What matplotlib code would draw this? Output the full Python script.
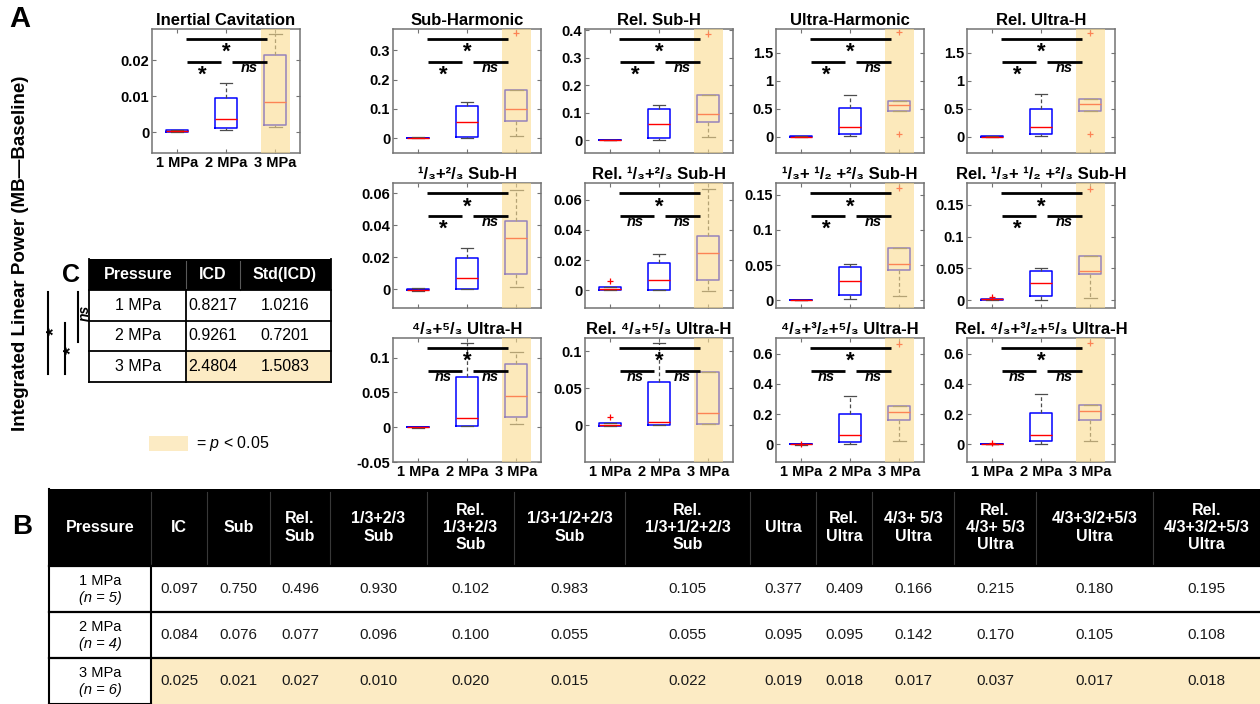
import numpy as np
import matplotlib
matplotlib.use("Agg")
import matplotlib.pyplot as plt
import matplotlib.transforms as mtransforms
from matplotlib.patches import Rectangle
from matplotlib.ticker import FuncFormatter

plt.rcParams['font.family'] = ['Liberation Sans', 'DejaVu Sans']
plt.rcParams['mathtext.fontset'] = 'custom'
plt.rcParams['mathtext.it'] = 'Liberation Sans:italic'
plt.rcParams['mathtext.rm'] = 'Liberation Sans'

W, H = 1260, 704
pressures = ['1 MPa', '2 MPa', '3 MPa']

# ---- five-number summaries (whislo, q1, median, q3, whishi) per pressure, plus outliers ----
inertial_cav = [(0.0, 0.0001, 0.0002, 0.0005, 0.0007),
                (0.0006, 0.0011, 0.0036, 0.0095, 0.0136),
                (0.0014, 0.0019, 0.0083, 0.0214, 0.0272)]
inertial_cav_out = [[], [], []]

sub_h = [(0.0, 0.0005, 0.001, 0.0015, 0.002),
         (0.0, 0.0034, 0.054, 0.111, 0.124),
         (0.008, 0.060, 0.099, 0.163, 0.163)]
sub_h_out = [[], [], [0.359]]

rel_sub_h = [(0.0, 0.0005, 0.001, 0.0015, 0.002),
             (0.0, 0.008, 0.057, 0.114, 0.126),
             (0.011, 0.067, 0.096, 0.163, 0.163)]
rel_sub_h_out = [[], [], [0.386]]

ultra_h = [(0.0, 0.002, 0.004, 0.006, 0.008),
           (0.007, 0.054, 0.18, 0.506, 0.75),
           (0.46, 0.46, 0.57, 0.64, 0.64)]
ultra_h_out = [[], [], [1.87, 0.05]]

rel_ultra_h = [(0.0, 0.002, 0.004, 0.006, 0.008),
               (0.007, 0.048, 0.17, 0.50, 0.76),
               (0.45, 0.45, 0.59, 0.68, 0.68)]
rel_ultra_h_out = [[], [], [1.85, 0.048]]

third_sub = [(-0.0012, -0.0008, -0.0003, 0.0002, 0.0004),
             (0.0, 0.0002, 0.0069, 0.0193, 0.0255),
             (0.0011, 0.0094, 0.0323, 0.0428, 0.0624)]
third_sub_out = [[], [], []]

rel_third_sub = [(0.0, 0.0, 0.0005, 0.0022, 0.0022),
                 (0.0, 0.0, 0.0067, 0.0182, 0.0238),
                 (-0.0005, 0.0069, 0.0249, 0.036, 0.0673)]
rel_third_sub_out = [[0.0062], [], []]

third_half_sub = [(0.0, 0.0002, 0.0004, 0.0006, 0.0008),
                  (0.0014, 0.007, 0.0276, 0.047, 0.051),
                  (0.0057, 0.043, 0.052, 0.075, 0.075)]
third_half_sub_out = [[], [], [0.159]]

rel_third_half_sub = [(0.0005, 0.001, 0.0015, 0.002, 0.002),
                      (0.001, 0.0068, 0.0273, 0.0457, 0.051),
                      (0.0036, 0.042, 0.0457, 0.070, 0.070)]
rel_third_half_sub_out = [[0.005], [], [0.175]]

ultra_45 = [(-0.0005, -0.0003, 0.0, 0.0003, 0.0005),
            (0.0019, 0.0019, 0.0129, 0.0713, 0.1207),
            (0.0052, 0.0144, 0.0454, 0.0905, 0.1086)]
ultra_45_out = [[], [], []]

rel_ultra_45 = [(-0.001, -0.001, 0.0, 0.0035, 0.0035),
                (0.0, 0.0, 0.0045, 0.059, 0.1113),
                (0.0014, 0.0014, 0.0168, 0.0718, 0.0718)]
rel_ultra_45_out = [[0.0115], [], []]

ultra_435 = [(-0.002, -0.001, 0.0, 0.001, 0.002),
             (0.0, 0.015, 0.064, 0.203, 0.318),
             (0.02, 0.159, 0.214, 0.256, 0.256)]
ultra_435_out = [[0.002], [], [0.667]]

rel_ultra_435 = [(0.0, 0.001, 0.002, 0.003, 0.004),
                 (0.005, 0.022, 0.064, 0.207, 0.331),
                 (0.02, 0.159, 0.223, 0.258, 0.258)]
rel_ultra_435_out = [[0.009], [], [0.669]]

# significance labels: (1 vs 3 MPa, 1 vs 2 MPa, 2 vs 3 MPa)
sig_main = ('*', '*', 'ns')
sig_mixed = ('*', 'ns', 'ns')

# ---- Table C ----
c_pressure = ['1 MPa', '2 MPa', '3 MPa']
c_icd = ['0.8217', '0.9261', '2.4804']
c_std = ['1.0216', '0.7201', '1.5083']

# ---- Table B ----
b_headers = ['Pressure', 'IC', 'Sub', 'Rel.\nSub', '1/3+2/3\nSub', 'Rel.\n1/3+2/3\nSub',
             '1/3+1/2+2/3\nSub', 'Rel.\n1/3+1/2+2/3\nSub', 'Ultra', 'Rel.\nUltra',
             '4/3+ 5/3\nUltra', 'Rel.\n4/3+ 5/3\nUltra', '4/3+3/2+5/3\nUltra',
             'Rel.\n4/3+3/2+5/3\nUltra']
b_n = [5, 4, 6]
b_1mpa = ['0.097', '0.750', '0.496', '0.930', '0.102', '0.983', '0.105',
          '0.377', '0.409', '0.166', '0.215', '0.180', '0.195']
b_2mpa = ['0.084', '0.076', '0.077', '0.096', '0.100', '0.055', '0.055',
          '0.095', '0.095', '0.142', '0.170', '0.105', '0.108']
b_3mpa = ['0.025', '0.021', '0.027', '0.010', '0.020', '0.015', '0.022',
          '0.019', '0.018', '0.017', '0.037', '0.017', '0.018']

SHADE = (0.98, 0.86, 0.56)
TABLE_YEL = '#FCEBC4'

fig = plt.figure(figsize=(W / 100, H / 100), dpi=100)

# overlay in pixel coordinates for tables and labels
ov = fig.add_axes([0, 0, 1, 1])
ov.set_xlim(0, W)
ov.set_ylim(H, 0)
ov.axis('off')


def px_box(l, t, r, b):
    return [l / W, 1 - b / H, (r - l) / W, (b - t) / H]


def draw_panel(box, title, stats, outs, sig, ylim, yticks, xlabels):
    ax = fig.add_axes(px_box(*box))
    bstats = []
    for (lo, q1, med, q3, hi), fl in zip(stats, outs):
        bstats.append(dict(whislo=lo, q1=q1, med=med, q3=q3, whishi=hi,
                           fliers=np.array(fl, dtype=float)))
    ax.bxp(bstats, positions=[1, 2, 3], widths=0.45, capwidths=0.25,
           boxprops=dict(color='blue', lw=1.1),
           medianprops=dict(color='red', lw=1.0),
           whiskerprops=dict(color='0.3', lw=0.9, linestyle=(0, (3, 2))),
           capprops=dict(color='0.3', lw=0.9),
           flierprops=dict(marker='+', markeredgecolor='red', markersize=5,
                           markeredgewidth=0.9, linestyle='none'),
           manage_ticks=False, zorder=2)
    ax.axvspan(2.7, 3.3, color=SHADE, alpha=0.6, lw=0, zorder=3)
    ax.set_xlim(0.5, 3.5)
    ax.set_ylim(*ylim)
    ax.set_yticks(yticks)
    ax.yaxis.set_major_formatter(FuncFormatter(lambda v, p: ('%g' % round(v, 4))))
    ax.set_xticks([1, 2, 3])
    if xlabels:
        ax.set_xticklabels(pressures)
    else:
        ax.set_xticklabels([])
    ax.tick_params(direction='in', top=True, right=True, length=3, width=0.8,
                   color='0.45', labelsize=10.5, pad=2)
    ax.tick_params(axis='x', labelsize=10.5, pad=2)
    for lab in ax.get_xticklabels() + ax.get_yticklabels():
        lab.set_fontweight('bold')
    for sp in ax.spines.values():
        sp.set_color('0.45')
        sp.set_linewidth(1.1)
    ax.set_title(title, fontsize=12, fontweight='bold', pad=3)

    tr = mtransforms.blended_transform_factory(ax.transData, ax.transAxes)
    y_long, y_short = 0.92, 0.737
    for xs, y in [((1.18, 2.84), y_long), ((1.2, 1.9), y_short), ((2.13, 2.84), y_short)]:
        ax.plot(xs, [y, y], color='k', lw=2, transform=tr, clip_on=False,
                zorder=5, solid_capstyle='butt')
    for x, y, s in [(2.0, y_long, sig[0]), (1.52, y_short, sig[1]), (2.48, y_short, sig[2])]:
        if s == '*':
            ax.text(x, y - 0.11, '*', transform=tr, ha='center', va='center',
                    fontsize=16, fontweight='bold', zorder=6)
        else:
            ax.text(x, y - 0.05, s, transform=tr, ha='center', va='center',
                    fontsize=10.5, fontweight='bold', fontstyle='italic', zorder=6)
    return ax


cols = [393, 585, 776, 967]
PW = 148
row1 = (29, 153)
row2 = (183, 308)
row3 = (338, 462)

draw_panel((152, row1[0], 152 + PW, row1[1]), 'Inertial Cavitation', inertial_cav,
           inertial_cav_out, sig_main, (-0.0058, 0.0286), [0, 0.01, 0.02], True)

draw_panel((cols[0], row1[0], cols[0] + PW, row1[1]), 'Sub-Harmonic', sub_h, sub_h_out,
           sig_main, (-0.051, 0.373), [0, 0.1, 0.2, 0.3], False)
draw_panel((cols[1], row1[0], cols[1] + PW, row1[1]), 'Rel. Sub-H', rel_sub_h, rel_sub_h_out,
           sig_main, (-0.047, 0.404), [0, 0.1, 0.2, 0.3, 0.4], False)
draw_panel((cols[2], row1[0], cols[2] + PW, row1[1]), 'Ultra-Harmonic', ultra_h, ultra_h_out,
           sig_main, (-0.29, 1.92), [0, 0.5, 1, 1.5], False)
draw_panel((cols[3], row1[0], cols[3] + PW, row1[1]), 'Rel. Ultra-H', rel_ultra_h,
           rel_ultra_h_out, sig_main, (-0.29, 1.92), [0, 0.5, 1, 1.5], False)

draw_panel((cols[0], row2[0], cols[0] + PW, row2[1]), '¹/₃+²/₃ Sub-H', third_sub,
           third_sub_out, sig_main, (-0.0119, 0.0665), [0, 0.02, 0.04, 0.06], False)
draw_panel((cols[1], row2[0], cols[1] + PW, row2[1]), 'Rel. ¹/₃+²/₃ Sub-H', rel_third_sub,
           rel_third_sub_out, sig_mixed, (-0.0118, 0.0711), [0, 0.02, 0.04, 0.06], False)
draw_panel((cols[2], row2[0], cols[2] + PW, row2[1]), '¹/₃+ ¹/₂ +²/₃ Sub-H', third_half_sub,
           third_half_sub_out, sig_main, (-0.011, 0.1667), [0, 0.05, 0.1, 0.15], False)
draw_panel((cols[3], row2[0], cols[3] + PW, row2[1]), 'Rel. ¹/₃+ ¹/₂ +²/₃ Sub-H',
           rel_third_half_sub, rel_third_half_sub_out, sig_main, (-0.012, 0.184),
           [0, 0.05, 0.1, 0.15], False)

draw_panel((cols[0], row3[0], cols[0] + PW, row3[1]), '⁴/₃+⁵/₃ Ultra-H', ultra_45,
           ultra_45_out, sig_mixed, (-0.0494, 0.128), [-0.05, 0, 0.05, 0.1], True)
draw_panel((cols[1], row3[0], cols[1] + PW, row3[1]), 'Rel. ⁴/₃+⁵/₃ Ultra-H', rel_ultra_45,
           rel_ultra_45_out, sig_mixed, (-0.05, 0.118), [0, 0.05, 0.1], True)
draw_panel((cols[2], row3[0], cols[2] + PW, row3[1]), '⁴/₃+³/₂+⁵/₃ Ultra-H', ultra_435,
           ultra_435_out, sig_mixed, (-0.117, 0.704), [0, 0.2, 0.4, 0.6], True)
draw_panel((cols[3], row3[0], cols[3] + PW, row3[1]), 'Rel. ⁴/₃+³/₂+⁵/₃ Ultra-H',
           rel_ultra_435, rel_ultra_435_out, sig_mixed, (-0.117, 0.704),
           [0, 0.2, 0.4, 0.6], True)

# ---- labels ----
ov.text(9, 19, 'A', fontsize=21, fontweight='bold', va='center', ha='left')
ov.text(12, 527, 'B', fontsize=20, fontweight='bold', va='center', ha='left')
ov.text(62, 275, 'C', fontsize=18, fontweight='bold', va='center', ha='left')
ov.text(21, 253, 'Integrated Linear Power (MB\u2014Baseline)', rotation=90,
        fontsize=13.5, fontweight='bold', ha='center', va='center')

# ---- Table C ----
cl, cr = 89, 331
c_cols = [89, 186, 240, 331]
c_rows = [259, 290, 321, 351, 382]
ov.add_patch(Rectangle((cl, c_rows[0]), cr - cl, c_rows[1] - c_rows[0], color='black', lw=0))
ov.add_patch(Rectangle((c_cols[1], c_rows[3]), cr - c_cols[1], c_rows[4] - c_rows[3],
                       color=TABLE_YEL, lw=0))
for x in c_cols[1:3]:
    ov.plot([x, x], [c_rows[0] + 2, c_rows[1]], color='0.35', lw=0.8)
for y in c_rows[1:]:
    ov.plot([cl, cr], [y, y], color='black', lw=1.3)
ov.plot([cl, cl], [c_rows[0], c_rows[4]], color='black', lw=1.3)
ov.plot([cr, cr], [c_rows[0], c_rows[4]], color='black', lw=1.3)
ov.plot([c_cols[1], c_cols[1]], [c_rows[1], c_rows[4]], color='black', lw=1.3)
for txt, x in zip(['Pressure', 'ICD', 'Std(ICD)'], [138, 213, 285]):
    ov.text(x, (c_rows[0] + c_rows[1]) / 2, txt, color='white', fontsize=11.5,
            fontweight='bold', ha='center', va='center')
for i in range(3):
    yc = (c_rows[i + 1] + c_rows[i + 2]) / 2
    ov.text(138, yc, c_pressure[i], fontsize=11.5, ha='center', va='center')
    ov.text(213, yc, c_icd[i], fontsize=11.5, ha='center', va='center')
    ov.text(285, yc, c_std[i], fontsize=11.5, ha='center', va='center')

# bracket of comparisons beside table C
ov.plot([48, 48], [292, 374], color='black', lw=1.5)
ov.plot([65, 65], [323, 374], color='black', lw=1.5)
ov.plot([78, 78], [292, 342], color='black', lw=1.5)
ov.text(55, 331, '*', rotation=90, fontsize=14, fontweight='bold', ha='center', va='center')
ov.text(72, 350, '*', rotation=90, fontsize=14, fontweight='bold', ha='center', va='center')
ov.text(85, 313, 'ns', rotation=90, fontsize=10, fontweight='bold', fontstyle='italic',
        ha='center', va='center')

# significance key
ov.add_patch(Rectangle((149, 436), 39, 15, color=TABLE_YEL, lw=0))
ov.text(196, 443.5, r'= $\it{p}$ < 0.05', fontsize=11.5, ha='left', va='center')

# ---- Table B ----
b_cols = [49, 151, 207, 270, 330, 427, 514, 625, 750, 816, 872, 954, 1036, 1153, 1260]
b_rows = [489, 566, 612, 658, 704]
ov.add_patch(Rectangle((b_cols[0], b_rows[0]), W - b_cols[0], b_rows[1] - b_rows[0],
                       color='black', lw=0))
ov.add_patch(Rectangle((b_cols[1], b_rows[3]), W - b_cols[1], b_rows[4] - b_rows[3],
                       color=TABLE_YEL, lw=0))
for x in b_cols[1:-1]:
    ov.plot([x, x], [b_rows[0] + 3, b_rows[1] - 2], color='0.22', lw=0.8)
for y in b_rows[1:4]:
    ov.plot([b_cols[0], W], [y, y], color='black', lw=1.6)
ov.plot([b_cols[0], b_cols[0]], [b_rows[0], b_rows[4]], color='black', lw=1.5)
ov.plot([b_cols[1], b_cols[1]], [b_rows[1], b_rows[4]], color='black', lw=1.5)
ov.plot([b_cols[0], b_cols[1]], [b_rows[4] - 0.5, b_rows[4] - 0.5], color='black', lw=1.5)

for j, hdr in enumerate(b_headers):
    xc = (b_cols[j] + b_cols[j + 1]) / 2
    ov.text(xc, (b_rows[0] + b_rows[1]) / 2, hdr, color='white', fontsize=11.5,
            fontweight='bold', ha='center', va='center', linespacing=1.2)

for i, vals in enumerate([b_1mpa, b_2mpa, b_3mpa]):
    yc = (b_rows[i + 1] + b_rows[i + 2]) / 2
    xc = (b_cols[0] + b_cols[1]) / 2
    ov.text(xc, yc - 8, pressures[i], fontsize=10.5, ha='center', va='center')
    ov.text(xc, yc + 9, '(n = %d)' % b_n[i], fontsize=10.5, fontstyle='italic',
            ha='center', va='center')
    for j, v in enumerate(vals):
        xc = (b_cols[j + 1] + b_cols[j + 2]) / 2
        ov.text(xc, yc, v, fontsize=11, ha='center', va='center', color='0.1')

fig.savefig('out.png', dpi=100)
